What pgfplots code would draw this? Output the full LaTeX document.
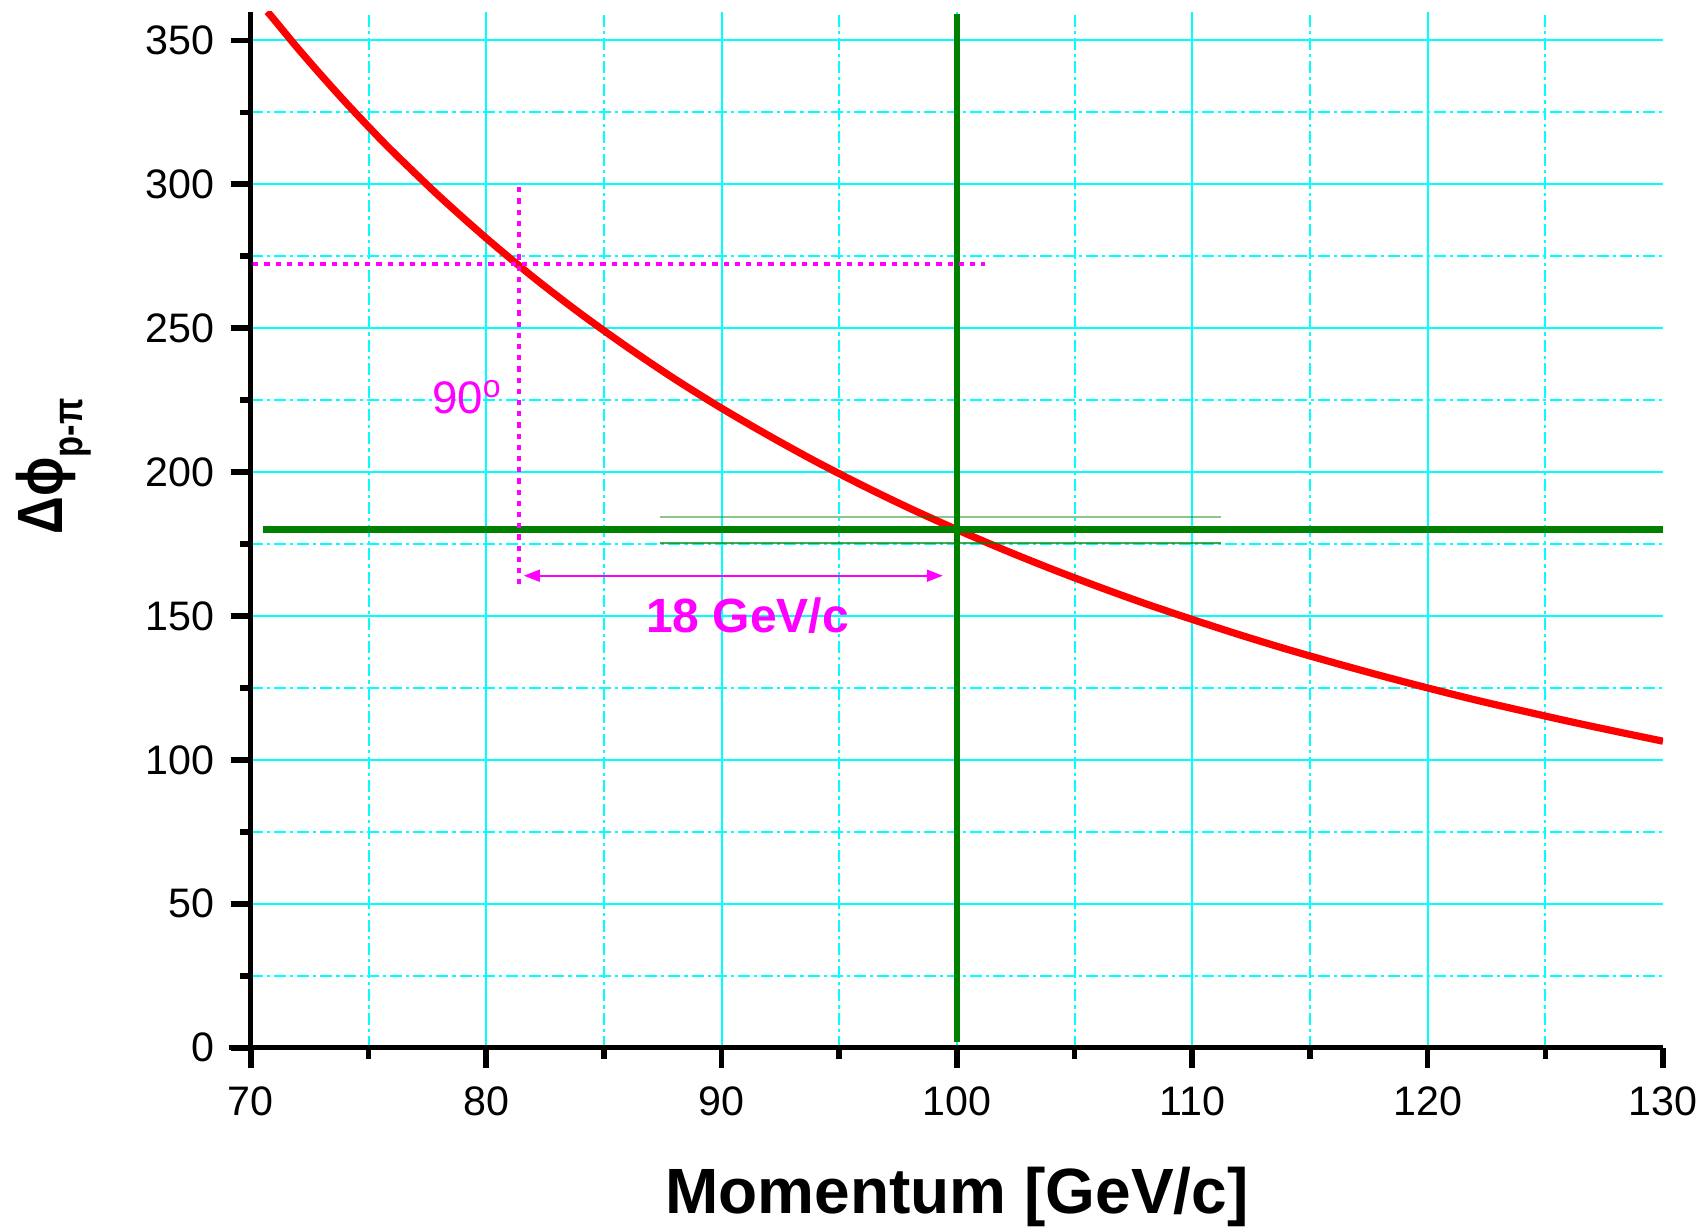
\documentclass[border=0pt]{standalone}
\usepackage{fontspec}
\setmainfont{Liberation Sans}
\usepackage{graphicx}
\usepackage{pgfplots}
\pgfplotsset{compat=1.18}
\usetikzlibrary{arrows.meta}
\definecolor{cy}{RGB}{0,255,255}
\definecolor{dgreen}{RGB}{0,128,0}
\definecolor{mag}{RGB}{255,0,255}
\begin{document}
\begin{tikzpicture}
\begin{axis}[name=ax, scale only axis, width=353pt, height=259pt,
  xmin=70, xmax=130, ymin=0, ymax=360,
  axis lines=left,
  every non boxed x axis/.style={}, every non boxed y axis/.style={},
  axis line style={-, line width=1.2pt, black},
  x axis line style={-, shorten <=-5.5pt}, y axis line style={-},
  every outer x axis line/.append style={-},
  every outer y axis line/.append style={-},
  xtick={70,80,...,120}, extra x ticks={130}, extra x tick style={grid=none},
  minor xtick={75,85,...,125},
  ytick={0,50,...,350}, minor ytick={25,75,...,325},
  tick align=outside, major tick length=5pt, minor tick length=2.8pt,
  tick style={black, line width=1.4pt},
  grid=both,
  major grid style={cy, line width=0.5pt},
  minor grid style={cy, line width=0.5pt, dash pattern=on 3pt off 1pt on 0.8pt off 1pt},
  ticklabel style={font=\fontsize{10.3}{12}\selectfont},
  xticklabel style={yshift=-1.3pt},
  yticklabel style={xshift=-0.5pt},
  /pgf/number format/assume math mode=true,
  xlabel={Momentum [GeV/c]},
  xlabel style={font=\bfseries\fontsize{16}{19}\selectfont, at={(axis description cs:0.5,-0.16)}, anchor=base},
  ylabel={\scalebox{0.82}[1]{Δϕ\raisebox{-5pt}{\fontsize{10.5}{12}\selectfont p-π}}},
  ylabel style={font=\bfseries\fontsize{16}{19}\selectfont, inner sep=0pt, at={(axis description cs:-0.1337,0.4947)}, anchor=base west},
]
\addplot[red, line width=1.8pt, smooth] coordinates {
(70.7,360) (71,357.1) (72,347.2) (73,337.8) (74,328.7) (75,320.0) (76,311.6)
(78,295.9) (80,281.3) (82,267.7) (84,255.1) (86,243.4) (88,232.4) (90,222.2)
(92,212.7) (94,203.7) (96,195.3) (98,187.4) (100,180.0) (102,173.0) (104,166.4)
(106,160.2) (108,154.3) (110,148.8) (112,143.5) (114,138.5) (116,133.8)
(118,129.3) (120,125.0) (122,120.9) (124,117.1) (126,113.4) (128,109.9) (130,106.5)
};
\addplot[dgreen, line width=1.7pt] coordinates {(70.5,180) (130,180)};
\addplot[dgreen, line width=1.7pt] coordinates {(100,2) (100,359)};
\addplot[dgreen, opacity=0.45, line width=0.6pt] coordinates {(87.4,184.5) (111.2,184.5)};
\addplot[dgreen, opacity=0.7, line width=0.6pt] coordinates {(87.4,175.3) (111.2,175.3)};
\addplot[mag, line width=1.1pt, dash pattern=on 1.3pt off 1.5pt] coordinates {(70.1,272.3) (101.2,272.3)};
\addplot[mag, line width=1.1pt, dash pattern=on 1.3pt off 1.5pt] coordinates {(81.4,299) (81.4,160.5)};
\addplot[mag, line width=0.4pt, {Triangle[length=4pt,width=3pt]}-{Triangle[length=4pt,width=3pt]}] coordinates {(81.6,164) (99.4,164)};
\node[mag, font=\fontsize{11.4}{13}\selectfont] at (axis cs:79.2,226) {90\textsuperscript{o}};
\node[mag, font=\bfseries\fontsize{12}{14}\selectfont] at (axis cs:91.1,150.1) {18 GeV/c};
\end{axis}
\pgfresetboundingbox
\path[use as bounding box] ([shift={(-62.7pt,-45.1pt)}]ax.south west) rectangle ([shift={(9.75pt,2.9pt)}]ax.north east);
\end{tikzpicture}
\end{document}
